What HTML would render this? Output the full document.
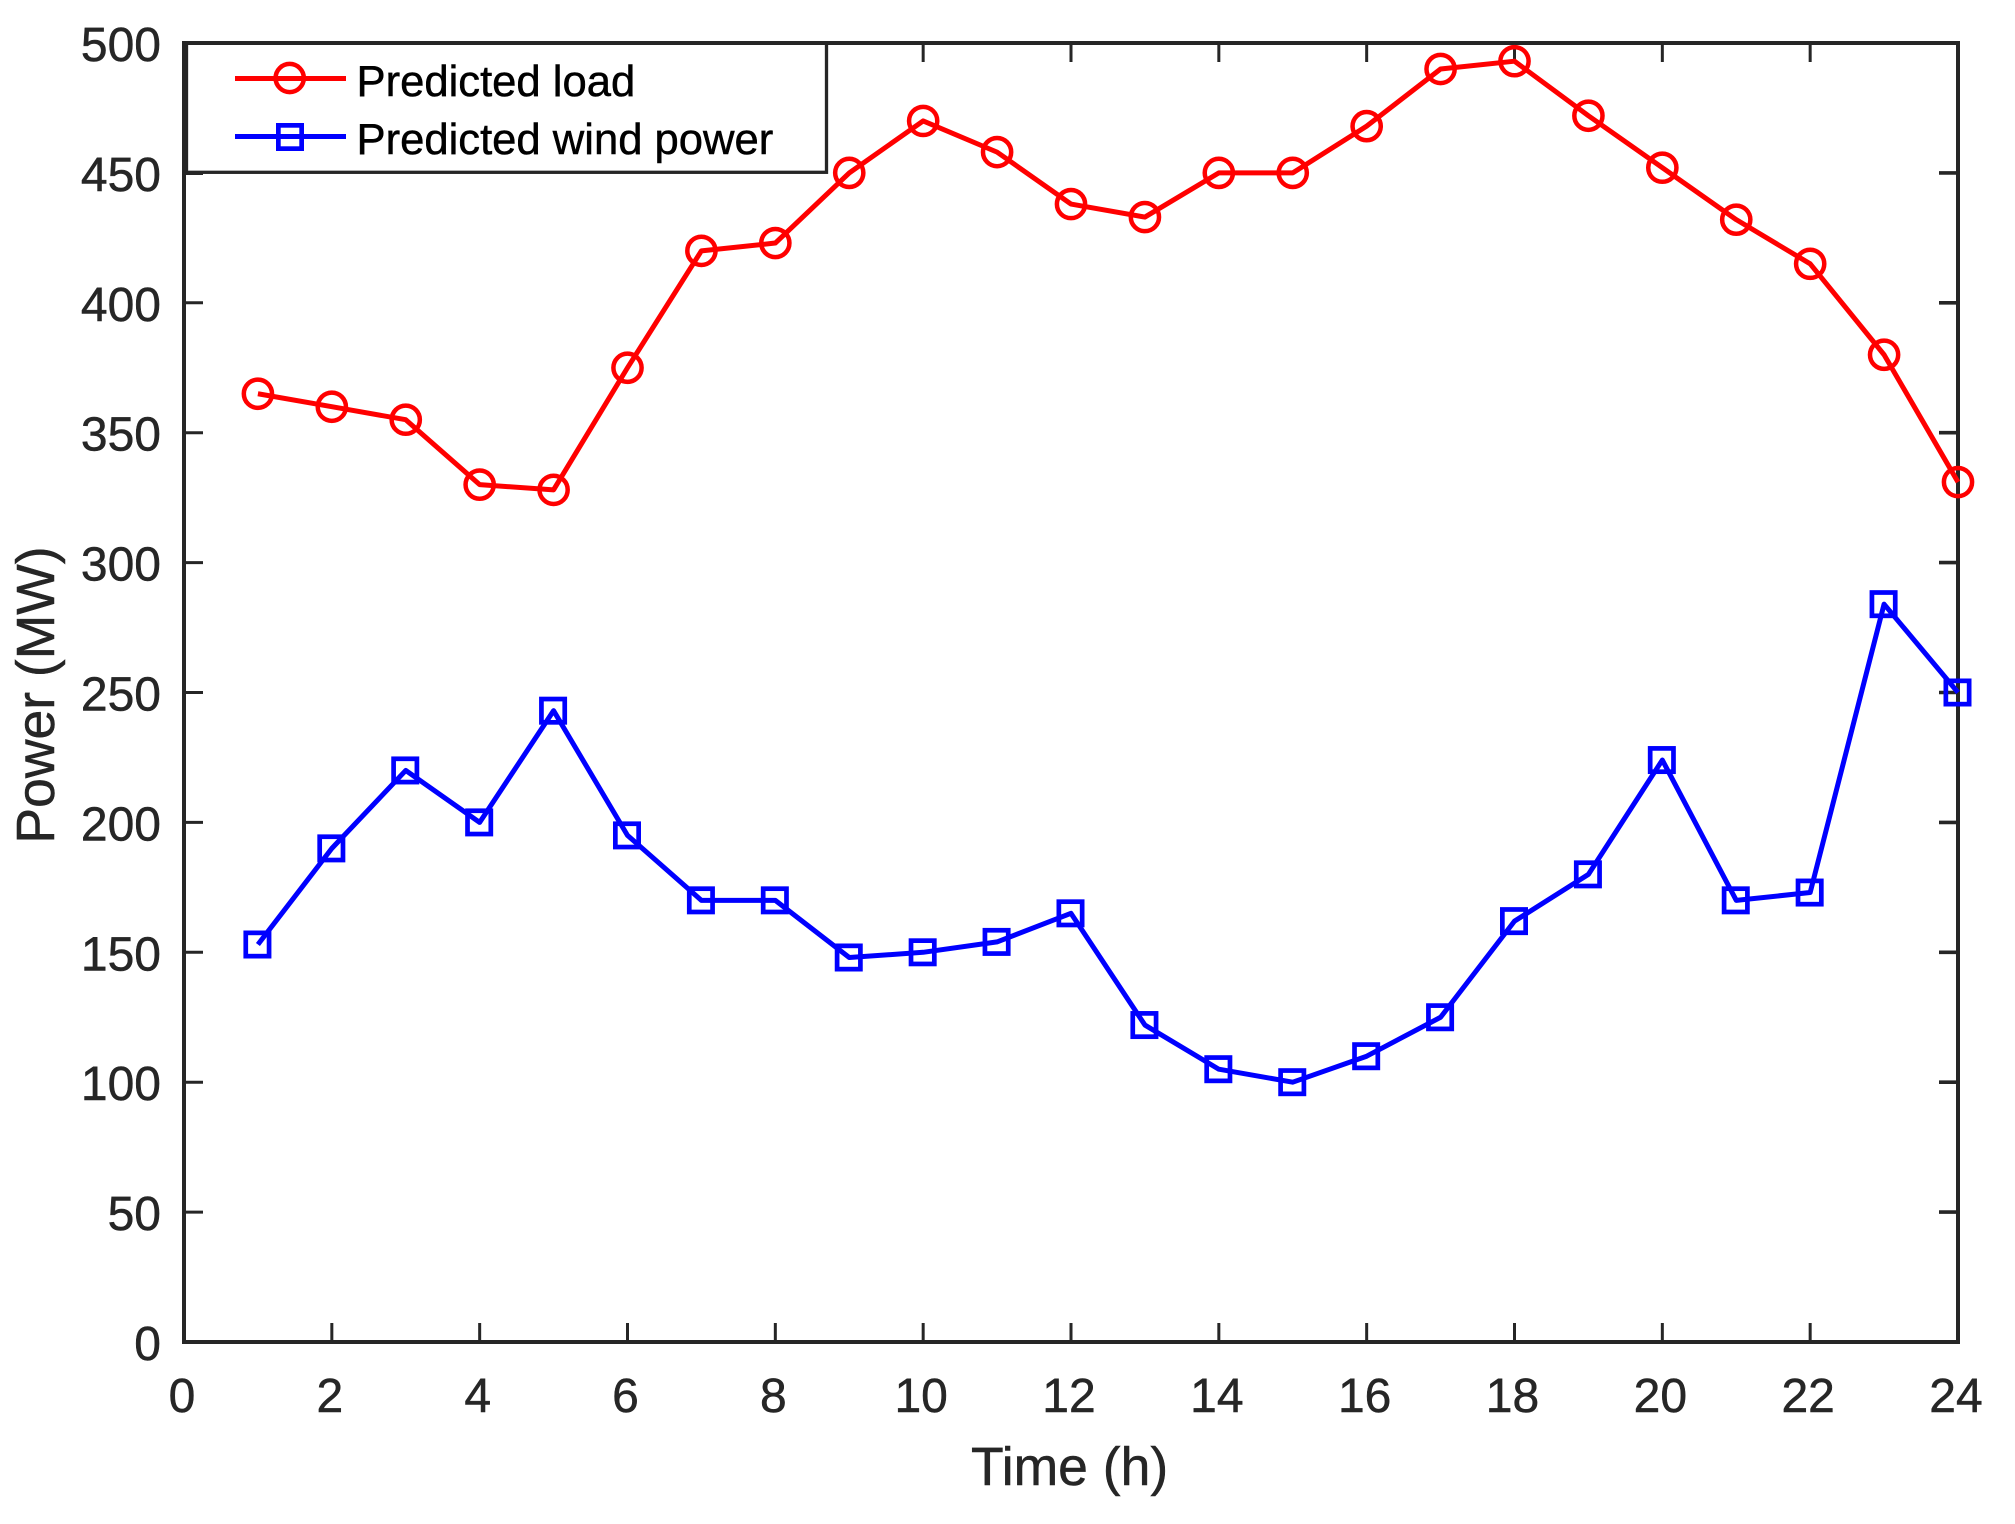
<!DOCTYPE html>
<html>
<head>
<meta charset="utf-8">
<title>Predicted load and wind power</title>
<style>
html,body{margin:0;padding:0;background:#fff;}
svg{display:block;}
text{font-family:"Liberation Sans",Arial,sans-serif;}
</style>
</head>
<body>
<svg id="chart" xmlns="http://www.w3.org/2000/svg" width="2015" height="1524" viewBox="0 0 2015 1524">
  <rect x="0" y="0" width="2015" height="1524" fill="#ffffff"/>
  <g id="ticks"></g>
  <g id="frame"></g>
  <g id="tick-labels"></g>
  <g id="series"></g>
  <text x="971" y="1485" font-size="53.5" fill="#262626" stroke="#262626" stroke-width="0.5">Time (h)</text>
  <text transform="translate(54 695) rotate(-90)" font-size="53.5" fill="#262626" stroke="#262626" stroke-width="0.5" text-anchor="middle">Power (MW)</text>
  <g>
    <rect x="186.5" y="43" width="640" height="129.3" fill="#ffffff" stroke="#262626" stroke-width="3.3"/>
    <rect x="182" y="41" width="646" height="4" fill="#262626"/>
    <rect x="182" y="41" width="4" height="134" fill="#262626"/>
    <rect x="186" y="173" width="17" height="2" fill="#262626"/>
    <g>
      <line x1="235" y1="78.5" x2="346" y2="78.5" stroke="#ff0000" stroke-width="5"/>
      <circle cx="289.7" cy="78" r="14.1" fill="none" stroke="#ff0000" stroke-width="4.5"/>
      <text x="356.5" y="96" font-size="43.6" fill="#000000" stroke="#000000" stroke-width="0.5">Predicted load</text>
    </g>
    <g>
      <line x1="235" y1="136.5" x2="346" y2="136.5" stroke="#0000ff" stroke-width="5"/>
      <rect x="278.35" y="125.35" width="23.3" height="23.3" fill="none" stroke="#0000ff" stroke-width="4.7"/>
      <text x="356.5" y="154" font-size="43.6" fill="#000000" stroke="#000000" stroke-width="0.5">Predicted wind power</text>
    </g>
  </g>
</svg>
<script>
var hours = [1,2,3,4,5,6,7,8,9,10,11,12,13,14,15,16,17,18,19,20,21,22,23,24];
var predictedLoad = [365,360,355,330,328,375,420,423,450,470,458,438,433,450,450,468,490,493,472,452,432,415,380,331];
var predictedWind = [153,190,220,200,243,195,170,170,148,150,154,165,122,105,100,110,125,162,180,224,170,173,284,250];
var xTickValues = [0,2,4,6,8,10,12,14,16,18,20,22,24];
var yTickValues = [0,50,100,150,200,250,300,350,400,450,500];

var NS = 'http://www.w3.org/2000/svg';
var plotLeft = 184, plotRight = 1958, plotTop = 43, plotBottom = 1342;
var xMin = 0, xMax = 24, yMin = 0, yMax = 500;
var tickLen = 19, axisColor = '#262626';

function xScale(v){ return plotLeft + (v - xMin) / (xMax - xMin) * (plotRight - plotLeft); }
function yScale(v){ return plotBottom - (v - yMin) / (yMax - yMin) * (plotBottom - plotTop); }
function make(tag, parent, attrs){
  var el = document.createElementNS(NS, tag);
  for (var k in attrs) el.setAttribute(k, attrs[k]);
  parent.appendChild(el);
  return el;
}

var ticksG = document.getElementById('ticks');
var frameG = document.getElementById('frame');
var labelsG = document.getElementById('tick-labels');
var seriesG = document.getElementById('series');

var frame = make('rect', frameG, {x: plotLeft, y: plotTop, width: plotRight - plotLeft, height: plotBottom - plotTop, fill: 'none', stroke: axisColor, 'stroke-width': 4});



xTickValues.forEach(function(v){
  var x = xScale(v);
  var b = make('line', ticksG, {x1: x, x2: x, y1: plotBottom, y2: plotBottom - tickLen, stroke: axisColor, 'stroke-width': 3});
  
  
  var t = make('line', ticksG, {x1: x, x2: x, y1: plotTop, y2: plotTop + tickLen, stroke: axisColor, 'stroke-width': 3});
  
  
  var lab = make('text', labelsG, {x: x - 2, y: 1412, 'font-size': 48, fill: axisColor, stroke: axisColor, 'stroke-width': 0.5, 'text-anchor': 'middle'});
  lab.textContent = String(v);
  
  
});

yTickValues.forEach(function(v){
  var y = yScale(v);
  var l = make('line', ticksG, {x1: plotLeft, x2: plotLeft + tickLen, y1: y, y2: y, stroke: axisColor, 'stroke-width': 3});
  
  
  var r = make('line', ticksG, {x1: plotRight, x2: plotRight - tickLen, y1: y, y2: y, stroke: axisColor, 'stroke-width': 3.6});
  
  
  var lab = make('text', labelsG, {x: 161, y: y + 18, 'font-size': 48, fill: axisColor, stroke: axisColor, 'stroke-width': 0.5, 'text-anchor': 'end'});
  lab.textContent = String(v);
  
  
});

function linePoints(values){
  return values.map(function(v, i){ return xScale(hours[i]) + ',' + yScale(v); }).join(' ');
}

var loadLine = make('polyline', seriesG, {points: linePoints(predictedLoad), fill: 'none', stroke: '#ff0000', 'stroke-width': 5, 'stroke-linejoin': 'round'});



var windLine = make('polyline', seriesG, {points: linePoints(predictedWind), fill: 'none', stroke: '#0000ff', 'stroke-width': 5, 'stroke-linejoin': 'round'});



predictedLoad.forEach(function(v, i){
  var c = make('circle', seriesG, {cx: xScale(hours[i]), cy: yScale(v), r: 14.1, fill: 'none', stroke: '#ff0000', 'stroke-width': 4.5});
  
  
});

predictedWind.forEach(function(v, i){
  var s = make('rect', seriesG, {x: xScale(hours[i]) - 12.15, y: yScale(v) - 11.65, width: 23.3, height: 23.3, fill: 'none', stroke: '#0000ff', 'stroke-width': 4.7});
  
  
});
</script>
</body>
</html>
